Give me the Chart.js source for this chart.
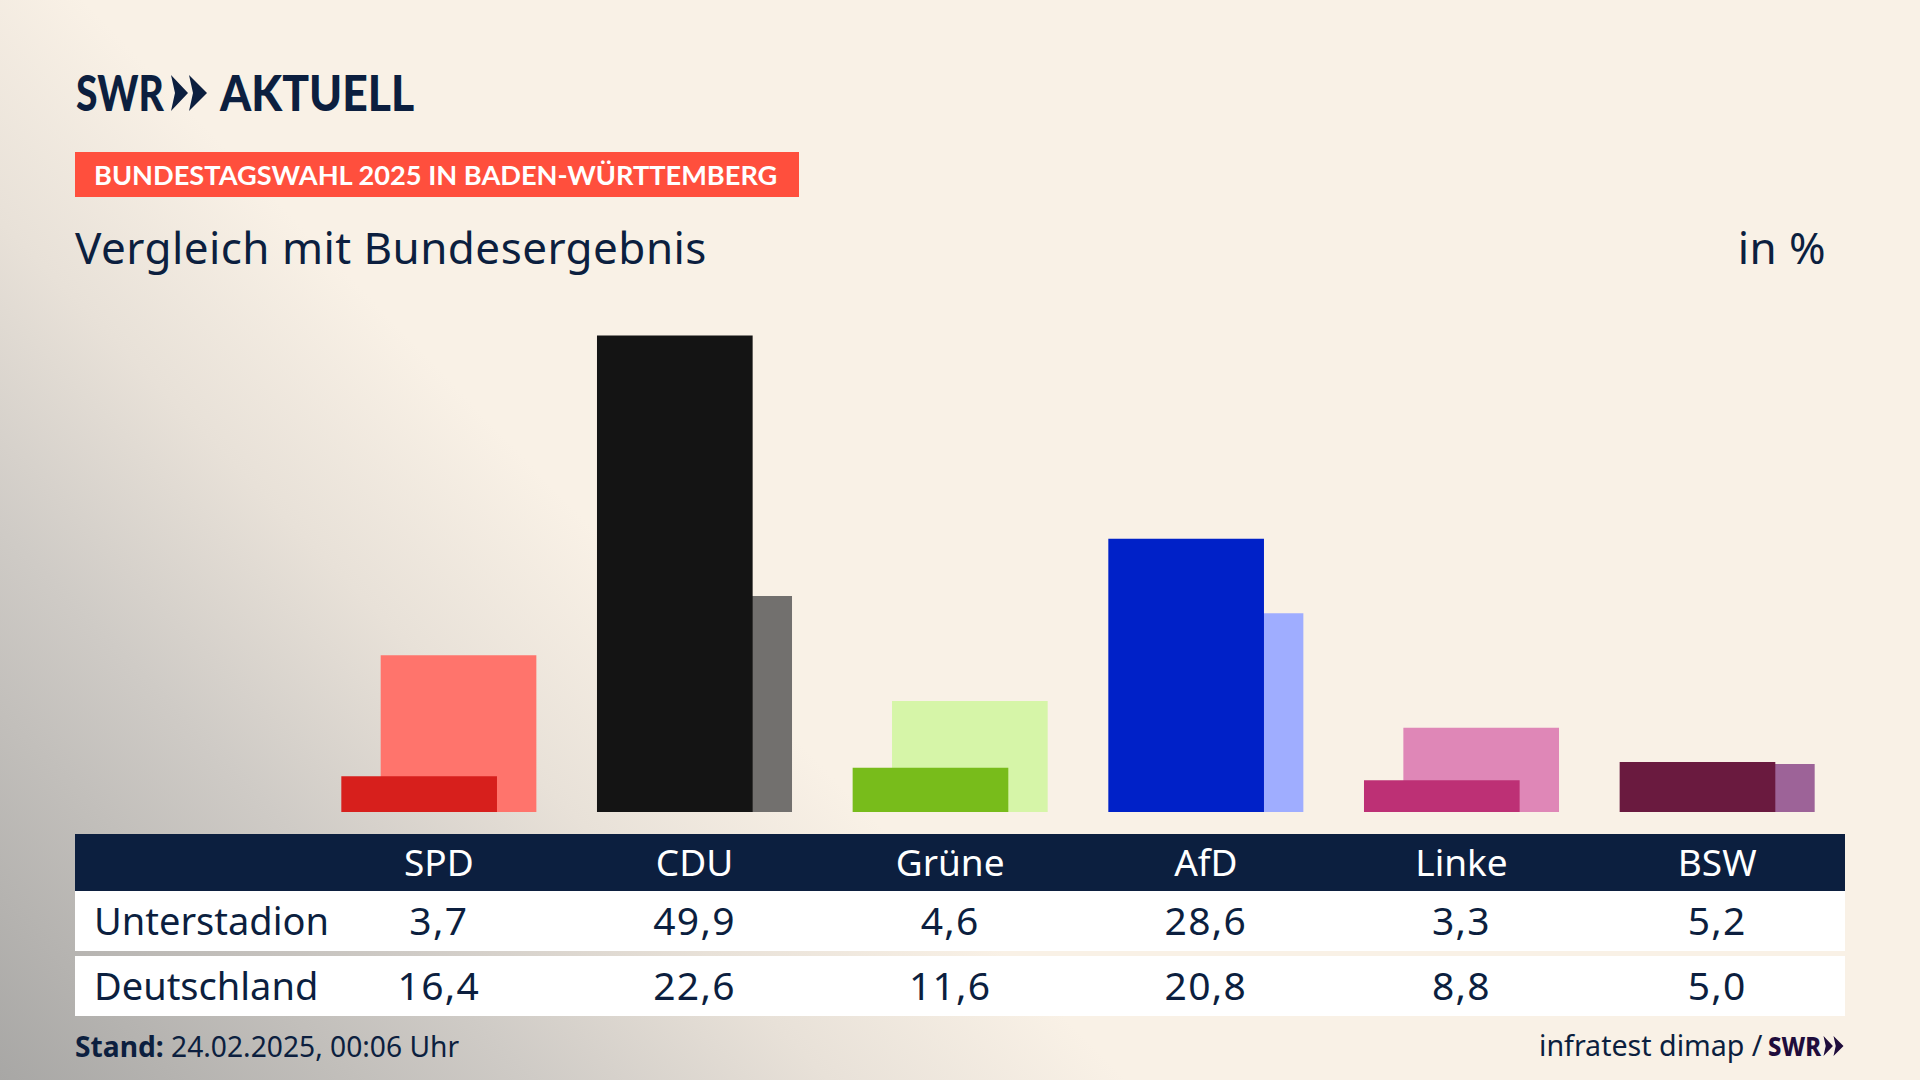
<!DOCTYPE html>
<html lang="de">
<head>
<meta charset="utf-8">
<title>Vergleich mit Bundesergebnis</title>
<script src="https://cdn.jsdelivr.net/npm/chart.js@4"></script>
<style>
    html, body { margin: 0; padding: 0; }
    body {
        position: relative;
        width: 1920px;
        height: 1080px;
        overflow: hidden;
        color: #0c1f3f;
        font-family: 'Noto Sans', sans-serif;
        background: linear-gradient(226deg, #f9f1e6 0%, #f9f1e6 62%, #e8e1d8 72%, #cfcbc6 82%, #a8a7a5 100%);
    }
    .abs { position: absolute; white-space: nowrap; }

    .logo-text { top: 62px; font-family: 'Lato', sans-serif; font-size: 50px; font-weight: 900; line-height: 60px; transform-origin: 0 50%; }
    #logo-swr  { left: 76px; transform: scaleX(0.78); }
    #logo-news { left: 220px; transform: scaleX(0.89); }
    #logo-arrows { left: 171px; top: 75px; }
    #banner {
        left: 75px; top: 152px; width: 724px; height: 45px; line-height: 45px;
        background: #ff4f3d; color: #fff;
        font-family: 'Lato', sans-serif; font-size: 27.2px; font-weight: 700; text-indent: 19px;
    }
    #title { left: 75px; top: 217px; font-size: 44px; line-height: 60px; letter-spacing: 0.45px; }
    #unit  { right: 94px; top: 217px; font-size: 44px; line-height: 60px; letter-spacing: 0.45px; }

    #chart-wrap { left: 311px; top: 335px; width: 1534px; height: 477px; }

    #table { left: 75px; top: 834px; width: 1770px; font-size: 39px; letter-spacing: 1.3px; }
    .row {
        display: grid;
        grid-template-columns: 236px repeat(6, 1fr);
        height: 60px; line-height: 58px;
        background: #fff;
        text-align: center;
    }
    .row.last { margin-top: 5px; }
    .row.head { height: 57px; line-height: 55px; background: #0c1f3f; color: #fff; font-size: 37px; letter-spacing: 0; }
    .row .name { text-align: left; padding-left: 19px; font-size: 38px; letter-spacing: 0; }

    #stand  { left: 75px; top: 1027px; font-size: 28.2px; line-height: 38px; }
    #source { left: 1539px; top: 1026px; font-size: 28.6px; line-height: 38px; }
    #source-swr { left: 1768px; top: 1027px; font-size: 27px; line-height: 38px; font-weight: 800; color: #1f0d3c; transform: scaleX(0.88); transform-origin: 0 50%; }
    #source-arrows { left: 1823px; top: 1036px; }
</style>
</head>
<body>
    <div class="abs logo-text" id="logo-swr">SWR</div>
    <svg class="abs" id="logo-arrows" width="36" height="36" viewBox="0 0 36 36" fill="#0c1f3f"><polygon points="0,0 17,18 0,36 4,18"/><polygon points="18,0 36,18 18,36 22,18"/></svg>
    <div class="abs logo-text" id="logo-news">AKTUELL</div>
    <div class="abs" id="banner">BUNDESTAGSWAHL 2025 IN BADEN-WÜRTTEMBERG</div>
    <div class="abs" id="title">Vergleich mit Bundesergebnis</div>
    <div class="abs" id="unit">in %</div>

    <div class="abs" id="chart-wrap"><canvas id="vote-chart"></canvas></div>

    <div class="abs" id="table"></div>

    <div class="abs" id="stand"><b>Stand:</b> 24.02.2025, 00:06 Uhr</div>
    <div class="abs" id="source">infratest dimap /</div>
    <div class="abs" id="source-swr">SWR</div>
    <svg class="abs" id="source-arrows" width="21" height="20" viewBox="0 0 36 36" fill="#1f0d3c"><polygon points="0,0 17,18 0,36 4,18"/><polygon points="18,0 36,18 18,36 22,18"/></svg>

<script>
const parties      = ['SPD', 'CDU', 'Grüne', 'AfD', 'Linke', 'BSW'];
const localName    = 'Unterstadion';
const nationalName = 'Deutschland';
const localVotes    = [3.7, 49.9, 4.6, 28.6, 3.3, 5.2];
const nationalVotes = [16.4, 22.6, 11.6, 20.8, 8.8, 5.0];

const localColors    = ['#d71f1c', '#141414', '#78bc1b', '#0021c8', '#bd3075', '#6a1a3f'];
const nationalColors = ['#ff746c', '#72706e', '#d6f5a8', '#9fadff', '#df87b7', '#9d6398'];

const BAR_WIDTH = 155;
const BAR_SHIFT = 0.077;   // the two bars of a party overlap, shifted left and right of its centre

function fmt(v) {
    return v.toFixed(1).replace('.', ',');
}

function addRow(cls, name, cells) {
    const row = document.createElement('div');
    row.className = 'row ' + cls;
    row.innerHTML = `<span class="name">${name}</span>` + cells.map((c) => `<span>${c}</span>`).join('');
    document.getElementById('table').appendChild(row);
}

function toPoints(values, shift) {
    return values.map((v, i) => ({ x: i + shift, y: v }));
}

function init() {
    addRow('head', '', parties);
    addRow('', localName, localVotes.map(fmt));
    addRow('last', nationalName, nationalVotes.map(fmt));

    new Chart(document.getElementById('vote-chart'), {
        type : 'bar',
        data : {
            datasets : [
                {
                    label           : localName,
                    data            : toPoints(localVotes, -BAR_SHIFT),
                    backgroundColor : localColors,
                    barThickness    : BAR_WIDTH,
                    grouped         : false,
                },
                {
                    label           : nationalName,
                    data            : toPoints(nationalVotes, BAR_SHIFT),
                    backgroundColor : nationalColors,
                    barThickness    : BAR_WIDTH,
                    grouped         : false,
                },
            ],
        },
        options : {
            responsive          : true,
            maintainAspectRatio : false,
            animation           : false,
            plugins : {
                legend  : { display: false },
                tooltip : { enabled: false },
            },
            scales : {
                x : { type: 'linear', offset: false, min: -0.5, max: 5.5, display: false },
                y : { min: 0, max: 50, display: false },
            },
        },
    });
}

document.addEventListener('DOMContentLoaded', init);
</script>
</body>
</html>
